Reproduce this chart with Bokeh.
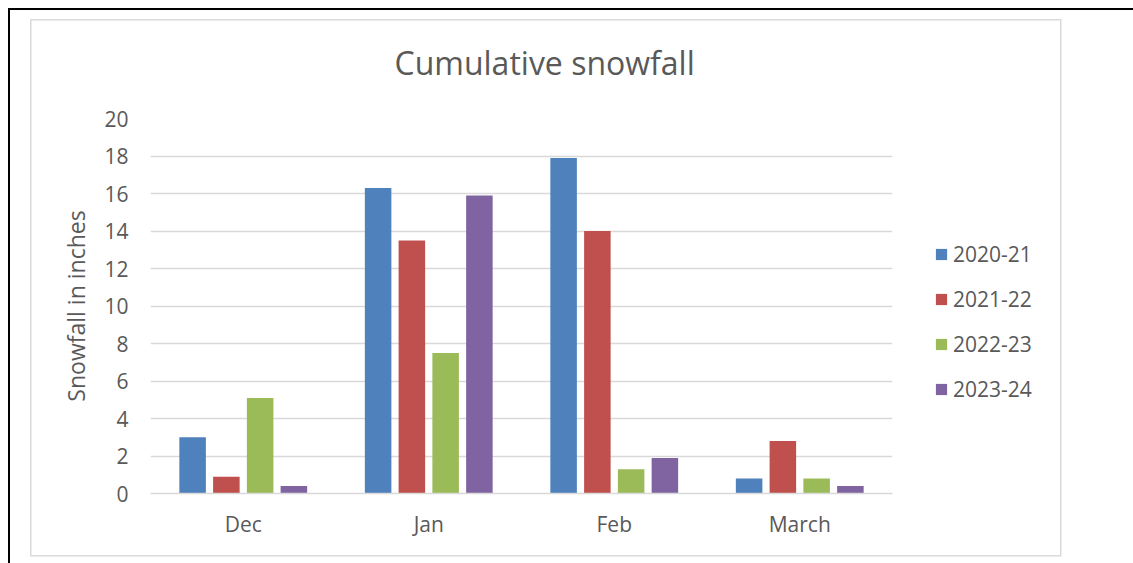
from bokeh.plotting import figure
from bokeh.models import (ColumnDataSource, FactorRange, Range1d, Legend, LegendItem,
                          FixedTicker)
from bokeh.transform import dodge
from bokeh.embed import file_html
from bokeh.resources import INLINE

# ---- data ----
months = ["Dec", "Jan", "Feb", "March"]
seasons = ["2020-21", "2021-22", "2022-23", "2023-24"]
snow_2020_21 = [3.0, 16.3, 17.9, 0.8]
snow_2021_22 = [0.9, 13.5, 14.0, 2.8]
snow_2022_23 = [5.1, 7.5, 1.3, 0.8]
snow_2023_24 = [0.4, 15.9, 1.9, 0.4]
y_ticks = [0, 2, 4, 6, 8, 10, 12, 14, 16, 18, 20]
title_text = "Cumulative snowfall"
y_label = "Snowfall in inches"

colors = ["#4F81BD", "#C0504D", "#9BBB59", "#8064A2"]
offsets = [-0.273, -0.091, 0.091, 0.273]
TXT = "#595959"
FONT = "Open Sans"
GRID = "#d9d9d9"

src = ColumnDataSource(dict(month=months, s0=snow_2020_21, s1=snow_2021_22,
                            s2=snow_2022_23, s3=snow_2023_24))


def bar(x, y, w, h, c):
    return f"linear-gradient({c},{c}) {x}px {y}px / {w}px {h}px no-repeat"


frame_css = ", ".join([
    bar(8, 8, 1125, 2, "#000"),
    bar(8, 8, 2, 555, "#000"),
    bar(30, 19, 1031, 1.5, "#dadada"),
    bar(30, 554.5, 1031, 1.5, "#dadada"),
    bar(29.5, 19, 1.5, 537, "#dadada"),
    bar(1059.5, 19, 1.5, 537, "#dadada"),
])

p = figure(x_range=FactorRange(factors=months), y_range=Range1d(0, 20),
           frame_width=742, frame_height=375,
           min_border_left=150, min_border_right=241, min_border_top=118,
           min_border_bottom=70, output_backend="svg", toolbar_location=None,
           styles={"background": frame_css})
p.outline_line_color = None
p.background_fill_color = "white"
p.border_fill_alpha = 0

renderers = []
for i, col in enumerate(["s0", "s1", "s2", "s3"]):
    r = p.vbar(x=dodge("month", offsets[i], range=p.x_range), top=col, width=0.143,
               source=src, fill_color=colors[i], line_color=None)
    renderers.append(r)

# title
p.title.text = title_text
p.title.align = "left"
p.title.offset = 244
p.title.text_font = FONT
p.title.text_font_style = "normal"
p.title.text_font_size = "32px"
p.title.text_color = TXT
p.title.standoff = 69

# axes
p.xgrid.grid_line_color = None
p.ygrid.grid_line_color = GRID
p.ygrid.grid_line_width = 1.5
p.yaxis.ticker = FixedTicker(ticks=y_ticks)
p.yaxis.axis_line_color = None
p.yaxis.major_tick_line_color = None
p.yaxis.minor_tick_line_color = None
p.yaxis.major_tick_in = 0
p.yaxis.major_tick_out = 0
p.yaxis.major_label_standoff = 22
p.yaxis.axis_label = y_label
p.yaxis.axis_label_text_font = FONT
p.yaxis.axis_label_text_font_style = "normal"
p.yaxis.axis_label_text_font_size = "23px"
p.yaxis.axis_label_text_color = TXT
p.yaxis.axis_label_standoff = 9

p.xaxis.axis_line_color = GRID
p.xaxis.axis_line_width = 1.5
p.xaxis.major_tick_line_color = None
p.xaxis.minor_tick_line_color = None
p.xaxis.major_tick_in = 0
p.xaxis.major_tick_out = 0
p.xaxis.major_label_standoff = 16

for ax in (p.xaxis, p.yaxis):
    ax.major_label_text_font = FONT
    ax.major_label_text_font_size = "21px"
    ax.major_label_text_color = TXT

# legend
legend = Legend(items=[LegendItem(label=s, renderers=[r]) for s, r in zip(seasons, renderers)],
                location=(42, 90), padding=0, margin=0, border_line_color=None,
                background_fill_alpha=0, glyph_width=14, glyph_height=14,
                label_standoff=5, spacing=17, label_text_font=FONT,
                label_text_font_size="21px", label_text_color=TXT)
p.add_layout(legend, "right")

open("out.html", "w").write(file_html(p, INLINE))
